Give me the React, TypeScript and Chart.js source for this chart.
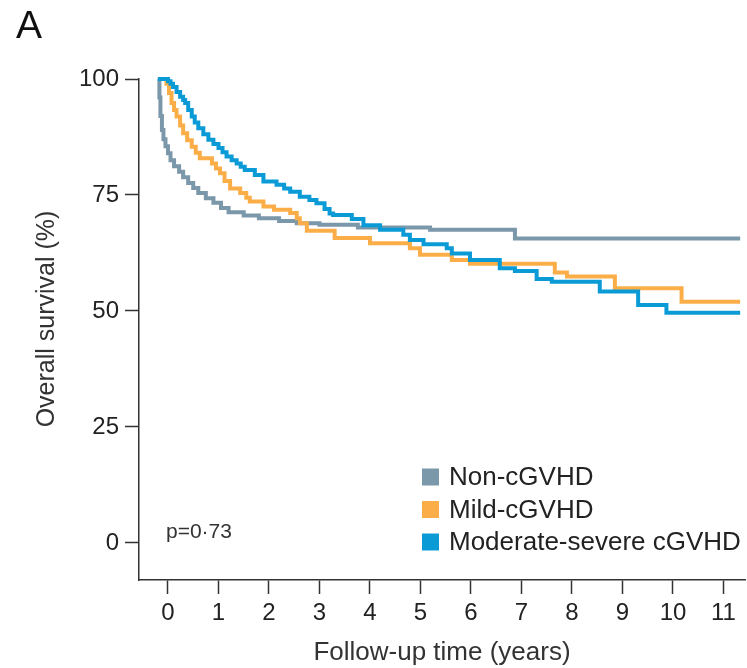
import { useEffect, useRef } from "react";
import { Chart, registerables } from "chart.js";

Chart.register(...registerables);

const FONT = '"Liberation Sans", Arial, Helvetica, sans-serif';

// Tick labels
const xTicks = [0, 1, 2, 3, 4, 5, 6, 7, 8, 9, 10, 11];
const yTicks = [0, 25, 50, 75, 100];

// Series labels
const seriesLabels = ["Non-cGVHD", "Mild-cGVHD", "Moderate-severe cGVHD"];

// Non-cGVHD (event time in years, survival % after the step)
const nonTimes = [-0.2, -0.17, -0.15, -0.12, -0.09, -0.05, 0.0, 0.05, 0.12, 0.22, 0.3, 0.4, 0.5, 0.6, 0.75, 0.9, 1.05, 1.2, 1.5, 1.8, 2.2, 2.55, 3.0, 3.76, 5.19, 6.87, 11.33];
const nonSurv = [100, 96, 92, 89, 87, 85.5, 84, 82.5, 81.2, 80, 78.8, 77.6, 76.5, 75.4, 74.3, 73.3, 72.2, 71.3, 70.6, 70.0, 69.4, 68.9, 68.6, 68.0, 67.5, 65.6, 65.6];

// Mild-cGVHD
const mildTimes = [-0.18, -0.03, 0.02, 0.07, 0.12, 0.17, 0.24, 0.3, 0.38, 0.47, 0.55, 0.63, 0.87, 0.95, 1.03, 1.12, 1.23, 1.43, 1.55, 1.62, 1.89, 2.1, 2.42, 2.55, 2.61, 2.75, 3.3, 4.0, 4.79, 4.99, 5.62, 5.98, 7.66, 7.9, 8.85, 10.17, 11.33];
const mildSurv = [100, 99, 97, 94.8, 93.3, 91.9, 90, 88.3, 86.8, 85.4, 84.1, 82.9, 81.8, 80.7, 79.7, 78, 76.4, 75.4, 74.4, 73.6, 72.5, 71.8, 71.1, 70, 68.9, 67.3, 65.7, 64.6, 63.5, 62.1, 61, 60.2, 58.3, 57.4, 54.9, 52.0, 52.0];

// Moderate-severe cGVHD
const modTimes = [-0.2, 0.0, 0.05, 0.1, 0.17, 0.24, 0.3, 0.34, 0.4, 0.47, 0.53, 0.6, 0.7, 0.8, 0.9, 1.0, 1.08, 1.16, 1.26, 1.36, 1.44, 1.52, 1.72, 1.89, 2.15, 2.3, 2.42, 2.61, 2.8, 2.94, 3.1, 3.2, 3.27, 3.64, 3.87, 4.2, 4.66, 4.79, 5.06, 5.52, 5.62, 5.98, 6.57, 6.87, 7.3, 7.6, 8.55, 9.31, 9.87, 11.33];
const modSurv = [100, 99.5, 99, 98.3, 97.2, 96.2, 95.5, 94.8, 93.3, 91.9, 90.6, 89.4, 88.1, 86.9, 86, 85.1, 84.2, 83.3, 82.5, 81.8, 81.1, 80.4, 79.3, 77.9, 77.2, 76.4, 75.7, 74.6, 73.9, 73.2, 72, 71, 70.7, 69.8, 68.5, 67.5, 66.4, 65.3, 64.4, 63.5, 62.4, 61.0, 59.2, 58.6, 56.9, 56.3, 54.2, 51.3, 49.6, 49.6];

const colors = ["#7b97aa", "#fbae48", "#0a9bd7"];

const toPoints = (t: number[], s: number[]) => t.map((x, i) => ({ x, y: s[i] }));

const overlayPlugin = {
  id: "overlayTexts",
  afterDraw(chart: any) {
    const ctx = chart.ctx as CanvasRenderingContext2D;
    ctx.save();
    ctx.fillStyle = "#111";
    // Panel letter
    ctx.font = `39px ${FONT}`;
    ctx.textAlign = "left";
    ctx.textBaseline = "alphabetic";
    ctx.fillText("A", 16, 38);

    // Y axis title
    ctx.save();
    ctx.fillStyle = "#333";
    ctx.font = `25px ${FONT}`;
    ctx.translate(47, 319);
    ctx.rotate(-Math.PI / 2);
    ctx.textAlign = "center";
    ctx.textBaseline = "middle";
    ctx.fillText("Overall survival (%)", 0, 0);
    ctx.restore();

    // p value
    ctx.fillStyle = "#333";
    ctx.font = `21px ${FONT}`;
    ctx.textAlign = "left";
    ctx.textBaseline = "middle";
    ctx.fillText("p=0\u00b773", 166, 532);

    // Legend
    const ds = chart.data.datasets;
    ctx.font = `26px ${FONT}`;
    ds.forEach((d: any, i: number) => {
      const cy = 477 + i * 32.5;
      ctx.fillStyle = d.borderColor;
      ctx.fillRect(422, cy - 8.5, 17, 17);
      ctx.fillStyle = "#222";
      ctx.fillText(d.label, 449, cy + 1);
    });
    ctx.restore();
  },
};

export default function App() {
  const ref = useRef<HTMLCanvasElement | null>(null);

  useEffect(() => {
    if (!ref.current) return;
    const mk = (i: number, t: number[], s: number[], order: number) => ({
      label: seriesLabels[i],
      data: toPoints(t, s),
      borderColor: colors[i],
      backgroundColor: colors[i],
      borderWidth: 4,
      pointRadius: 0,
      stepped: "before" as const,
      fill: false,
      clip: false as any,
      order,
    });
    const chart = new Chart(ref.current, {
      type: "line",
      data: {
        datasets: [
          mk(0, nonTimes, nonSurv, 2),
          mk(1, mildTimes, mildSurv, 1),
          mk(2, modTimes, modSurv, 0),
        ],
      },
      options: {
        animation: false,
        responsive: false,
        events: [],
        layout: { padding: { top: 79, right: 2, bottom: 0, left: 0 } },
        plugins: { legend: { display: false }, tooltip: { enabled: false } },
        scales: {
          x: {
            type: "linear",
            min: -0.574,
            max: 11.426,
            afterBuildTicks: (s: any) => {
              s.ticks = xTicks.map((v) => ({ value: v }));
            },
            afterFit: (s: any) => {
              s.height = 88;
            },
            grid: { drawOnChartArea: false, drawTicks: true, tickLength: 14, tickColor: "#333", tickWidth: 1.5 },
            border: { display: true, color: "#333", width: 1.5 },
            ticks: { font: { family: FONT, size: 24 }, color: "#222", padding: 5, maxRotation: 0, autoSkip: false },
            title: {
              display: true,
              text: "Follow-up time (years)",
              font: { family: FONT, size: 26 },
              color: "#333",
              padding: { top: 0, bottom: 0 },
            },
          },
          y: {
            type: "linear",
            min: -8,
            max: 100,
            afterBuildTicks: (s: any) => {
              s.ticks = yTicks.map((v) => ({ value: v }));
            },
            afterFit: (s: any) => {
              s.width = 139;
            },
            grid: { drawOnChartArea: false, drawTicks: true, tickLength: 14, tickColor: "#333", tickWidth: 1.5 },
            border: { display: true, color: "#333", width: 1.5 },
            ticks: { font: { family: FONT, size: 24 }, color: "#222", padding: 6 },
            title: { display: false },
          },
        },
      },
      plugins: [overlayPlugin],
    });
    return () => chart.destroy();
  }, []);

  return (
    <div style={{ position: "fixed", left: 0, top: 0, width: 747, height: 668, background: "#fff" }}>
      <canvas ref={ref} width={747} height={668} />
    </div>
  );
}
